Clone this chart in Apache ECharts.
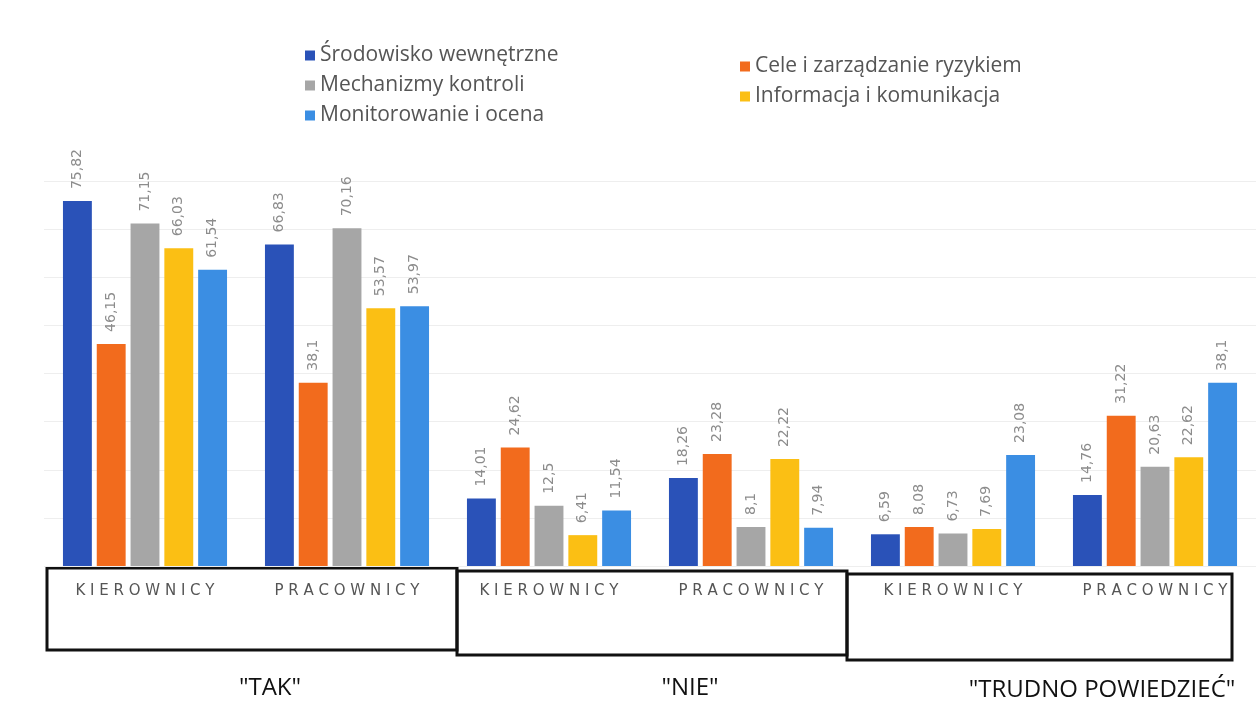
<!DOCTYPE html>
<html><head><meta charset="utf-8">
<script src="https://cdn.jsdelivr.net/npm/echarts@6/dist/echarts.min.js"></script>
<style>html,body{margin:0;padding:0;background:#fff}#c{width:1258px;height:715px}</style>
</head><body><div id="c"></div>
<script>
const categories = ['KIEROWNICY','PRACOWNICY','KIEROWNICY','PRACOWNICY','KIEROWNICY','PRACOWNICY'];
const groupLabels = ['"TAK"','"NIE"','"TRUDNO POWIEDZIEĆ"'];
const seriesNames = ['Środowisko wewnętrzne','Cele i zarządzanie ryzykiem','Mechanizmy kontroli','Informacja i komunikacja','Monitorowanie i ocena'];
const srodowisko = [75.82, 66.83, 14.01, 18.26, 6.59, 14.76];
const cele = [46.15, 38.1, 24.62, 23.28, 8.08, 31.22];
const mechanizmy = [71.15, 70.16, 12.5, 8.1, 6.73, 20.63];
const informacja = [66.03, 53.57, 6.41, 22.22, 7.69, 22.62];
const monitorowanie = [61.54, 53.97, 11.54, 7.94, 23.08, 38.1];
const colors = ['#2a52b8','#f26b1d','#a6a6a6','#fbbf14','#3b8ee3'];
const values = [srodowisko, cele, mechanizmy, informacja, monitorowanie];

const chart = echarts.init(document.getElementById('c'));
const legendFont = "'Open Sans',sans-serif";
chart.setOption({
  backgroundColor: '#fff',
  animation: false,
  color: colors,
  legend: [
    {data: [seriesNames[0], seriesNames[2], seriesNames[4]], orient: 'vertical', left: 300, top: 40, itemWidth: 10, itemHeight: 10, itemGap: 9, icon: 'rect', itemStyle: {borderWidth: 0},
     textStyle: {fontFamily: legendFont, fontSize: 21, color: '#555'}},
    {data: [seriesNames[1], seriesNames[3]], orient: 'vertical', left: 735, top: 51, itemWidth: 10, itemHeight: 10, itemGap: 9, icon: 'rect', itemStyle: {borderWidth: 0},
     textStyle: {fontFamily: legendFont, fontSize: 21, color: '#555'}}
  ],
  grid: {left: 44, right: 2, top: 181, bottom: 149},
  xAxis: {
    type: 'category', data: categories,
    axisLine: {show: false}, axisTick: {show: false},
    axisLabel: {margin: 18, fontSize: 15, color: '#555', fontFamily: 'DejaVu Sans',
      formatter: s => s.split('').join(' ')}
  },
  yAxis: {
    type: 'value', min: 0, max: 80, interval: 10,
    axisLabel: {show: false}, axisLine: {show: false}, axisTick: {show: false},
    splitLine: {lineStyle: {color: '#eeeeee', width: 1}}
  },
  series: seriesNames.map((n, i) => ({
    name: n, type: 'bar', data: values[i], barWidth: '14.3%', barGap: '17%',
    itemStyle: {color: colors[i]},
    label: {show: true, position: 'top', rotate: 90, align: 'left', verticalAlign: 'middle', distance: 12,
      fontFamily: 'DejaVu Sans', fontSize: 14, color: '#8c8c8c',
      formatter: p => String(p.value).replace('.', ',')}
  })),
  graphic: [
    {type: 'rect', shape: {x: 47, y: 568, width: 410, height: 82}, style: {fill: 'none', stroke: '#111', lineWidth: 3}},
    {type: 'rect', shape: {x: 457, y: 571, width: 390, height: 84}, style: {fill: 'none', stroke: '#111', lineWidth: 3}},
    {type: 'rect', shape: {x: 847, y: 574, width: 385, height: 86}, style: {fill: 'none', stroke: '#111', lineWidth: 3}},
    {type: 'text', x: 270, y: 688, style: {text: groupLabels[0], fontFamily: legendFont, fontSize: 24, fill: '#111', align: 'center', verticalAlign: 'middle'}},
    {type: 'text', x: 690, y: 688, style: {text: groupLabels[1], fontFamily: legendFont, fontSize: 24, fill: '#111', align: 'center', verticalAlign: 'middle'}},
    {type: 'text', x: 1102, y: 690, style: {text: groupLabels[2], fontFamily: legendFont, fontSize: 24, fill: '#111', align: 'center', verticalAlign: 'middle'}}
  ]
});
</script></body></html>
